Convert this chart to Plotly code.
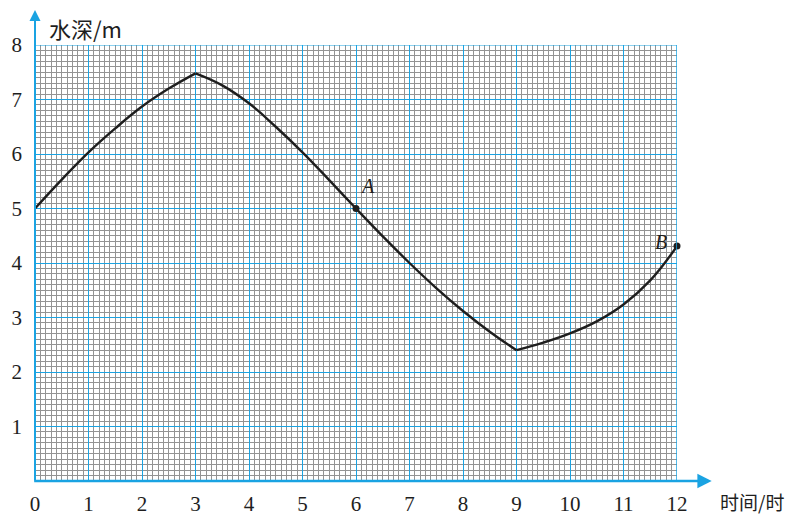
import plotly.graph_objects as go

# Water depth readings (m) against time (h), split at the high and low tide turning points
rise_t = [0, 0.5, 1, 1.5, 2, 2.5, 3]
rise_d = [5.0, 5.53, 6.03, 6.47, 6.87, 7.2, 7.48]

fall_t = [3, 3.5, 4, 4.5, 5, 5.5, 6, 6.5, 7, 7.5, 8, 8.5, 9]
fall_d = [7.48, 7.26, 6.93, 6.5, 6.03, 5.52, 5.0, 4.49, 4.0, 3.54, 3.12, 2.74, 2.4]

late_t = [9, 9.5, 10, 10.5, 11, 11.5, 12]
late_d = [2.4, 2.54, 2.71, 2.93, 3.24, 3.68, 4.31]

# Marked points
pt_names = ["A", "B"]
pt_t = [6, 12]
pt_d = [5.0, 4.31]

x_ticks = list(range(0, 13))
y_ticks = list(range(1, 9))

BLUE = "#1aa3e2"
GRAY = "#939393"
SERIF = "Liberation Serif, Times New Roman, serif"
CJK = "Noto Sans CJK SC, sans-serif"

fig = go.Figure()
for tx, dy in [(rise_t, rise_d), (fall_t, fall_d), (late_t, late_d)]:
    fig.add_trace(go.Scatter(
        x=tx, y=dy, mode="lines",
        line=dict(color="#1e1e1e", width=2.4, shape="spline", smoothing=1.2),
        hoverinfo="skip", showlegend=False, cliponaxis=False,
    ))

fig.add_trace(go.Scatter(
    x=pt_t, y=pt_d, mode="markers",
    marker=dict(color="#1e1e1e", size=7),
    showlegend=False, cliponaxis=False,
))

# Point labels
label_pos = {"A": (6.22, 5.42), "B": (11.7, 4.39)}
for name in pt_names:
    lx, ly = label_pos[name]
    fig.add_annotation(x=lx, y=ly, xref="x", yref="y", text=f"<i>{name}</i>",
                       showarrow=False, font=dict(family=SERIF, size=20, color="#1e1e1e"))

# Axis arrows (paper coordinates so they may extend past the plot area)
fig.add_annotation(x=0, y=1.08, xref="paper", yref="paper", ax=0, ay=472,
                   axref="pixel", ayref="pixel",
                   text="", showarrow=True, arrowhead=2, arrowsize=1.1, arrowwidth=2,
                   arrowcolor=BLUE)
fig.add_annotation(x=1.054, y=0, xref="paper", yref="paper", ax=-679, ay=0,
                   axref="pixel", ayref="pixel",
                   text="", showarrow=True, arrowhead=2, arrowsize=1.1, arrowwidth=2.6,
                   arrowcolor=BLUE)

# Axis titles
fig.add_annotation(x=0.018, y=1.039, xref="paper", yref="paper", xanchor="left", yanchor="middle",
                   text="水深/m", showarrow=False,
                   font=dict(family=CJK, size=22, color="#1e1e1e"))
fig.add_annotation(x=1.064, y=-0.048, xref="paper", yref="paper", xanchor="left", yanchor="middle",
                   text="时间/时", showarrow=False,
                   font=dict(family=CJK, size=19, color="#1e1e1e"))

fig.update_xaxes(
    range=[0, 12], tickvals=x_ticks, ticktext=[str(v) for v in x_ticks],
    showgrid=True, gridcolor=BLUE, gridwidth=1.2,
    minor=dict(dtick=0.1, showgrid=True, gridcolor=GRAY, gridwidth=1),
    showline=False, zeroline=False, ticks="", ticklabelstandoff=8,
    automargin=False,
    tickfont=dict(family=SERIF, size=21, color="#1e1e1e"),
)
fig.update_yaxes(
    range=[0, 8], tickvals=y_ticks, ticktext=[str(v) for v in y_ticks],
    showgrid=True, gridcolor=BLUE, gridwidth=1.2,
    minor=dict(dtick=0.1, showgrid=True, gridcolor=GRAY, gridwidth=1),
    showline=False, zeroline=False, ticks="", ticklabelstandoff=12,
    automargin=False,
    tickfont=dict(family=SERIF, size=21, color="#1e1e1e"),
)

# Plot frame: left axis and top/right border in blue
fig.add_shape(type="line", xref="x", yref="y", x0=0, x1=0, y0=0, y1=8,
              line=dict(color=BLUE, width=2))
fig.add_shape(type="line", xref="x", yref="y", x0=0, x1=12, y0=8, y1=8,
              line=dict(color=BLUE, width=1.2))
fig.add_shape(type="line", xref="x", yref="y", x0=12, x1=12, y0=0, y1=8,
              line=dict(color=BLUE, width=1.5))

fig.update_layout(
    width=804, height=517,
    margin=dict(l=35, r=127, t=45, b=36),
    paper_bgcolor="white", plot_bgcolor="white",
    showlegend=False,
)

fig.write_html("out.html")
